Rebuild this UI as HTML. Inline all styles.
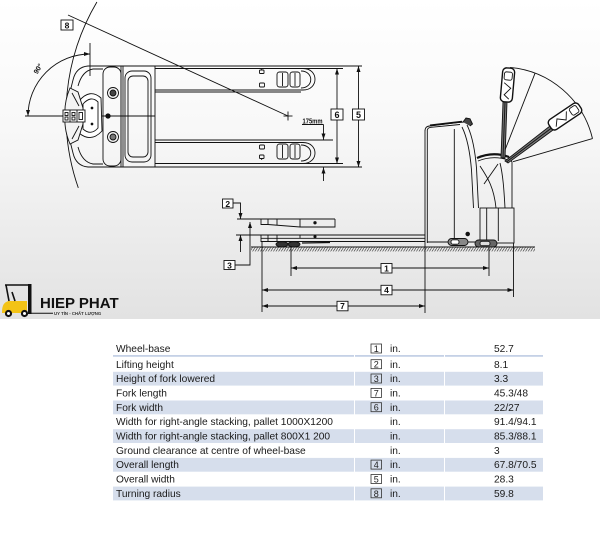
<!DOCTYPE html>
<html><head><meta charset="utf-8"><style>
html,body{margin:0;padding:0;background:#fff;}
svg{display:block}
text{font-family:"Liberation Sans",Arial,sans-serif}
</style></head><body>
<svg width="600" height="536" viewBox="0 0 600 536" xmlns="http://www.w3.org/2000/svg">
<defs>
<linearGradient id="bg" x1="0" y1="0" x2="0" y2="1">
<stop offset="0" stop-color="#ffffff"/><stop offset="0.4" stop-color="#f8f8f8"/><stop offset="1" stop-color="#e2e2e2"/>
</linearGradient>
<marker id="ar" markerUnits="userSpaceOnUse" markerWidth="6" markerHeight="4" refX="6" refY="2" orient="auto-start-reverse"><path d="M0,0 L6,2 L0,4 Z" fill="#111"/></marker>
<pattern id="hatch" width="2.6" height="4" patternUnits="userSpaceOnUse"><path d="M0,4 L2.6,0" stroke="#222" stroke-width="0.6"/></pattern>
</defs>
<rect x="0" y="0" width="600" height="319" fill="url(#bg)"/>

<!-- ========== TOP VIEW ========== -->
<g stroke="#111" stroke-width="0.9" fill="none">
  <line x1="68" y1="15" x2="288" y2="116"/>
  <path d="M96.9,2 A222,222 0 0 0 78.3,187.9"/>
  <path d="M28,116 A62,62 0 0 1 90,54" marker-start="url(#ar)" marker-end="url(#ar)"/>
  <line x1="25" y1="116" x2="155" y2="116"/>
  <line x1="90" y1="43" x2="90" y2="76"/>
  <path d="M362,66 L88,66 Q76,67 73,80 L70,92"/>
  <path d="M362,167 L88,167 Q76,166 73,153 L70,141"/>
  <path d="M103,69 L93,69 Q82,71 78,86"/>
  <path d="M103,164 L93,164 Q82,162 78,147"/>
  <rect x="103" y="67" width="18" height="99" rx="7"/>
  <line x1="121" y1="66" x2="121" y2="167"/>
  <line x1="123" y1="66" x2="123" y2="167"/>
  <rect x="125" y="71" width="26" height="91" rx="7"/>
  <rect x="128" y="76" width="20" height="81" rx="5"/>
  <line x1="155" y1="66" x2="155" y2="167"/>
  <circle cx="113" cy="93" r="5.5"/><circle cx="113" cy="93" r="3" fill="#444"/>
  <circle cx="113" cy="137" r="5.5"/><circle cx="113" cy="137" r="3" fill="#777"/>
  <circle cx="108" cy="116" r="2.2" fill="#111"/>
  <path d="M79,101 Q90,88 101,98 L102,131 Q91,143 79,133 Z" fill="#fff"/>
  <path d="M83,104 Q91,95 98,102 L98,128 Q91,136 83,129 Z"/>
  <circle cx="92" cy="108" r="0.9" fill="#111"/><circle cx="92" cy="124" r="0.9" fill="#111"/>
  <path d="M70,88 L78,92 L83,108 L83,124 L78,140 L70,144 Q64,130 65,116 Q64,102 70,88 Z" fill="#f4f4f4"/>
  <path d="M72,93 L79,106 M72,139 L79,126"/>
  <rect x="63" y="110" width="22" height="12" fill="#fff"/>
  <line x1="70" y1="110" x2="70" y2="122"/><line x1="77" y1="110" x2="77" y2="122"/>
  <rect x="65" y="112.5" width="3" height="3"/><rect x="65" y="117" width="3" height="3"/>
  <rect x="72" y="112.5" width="3" height="3"/><rect x="72" y="117" width="3" height="3"/>
  <rect x="79" y="112.5" width="3.5" height="7"/>
  <path d="M155,68.5 L303,68.5 C319,68.5 319,90 303,90 L155,90"/>
  <path d="M301,71 C314,71 314,88 301,88"/>
  <line x1="155" y1="92" x2="301" y2="92"/>
  <path d="M155,142.5 L303,142.5 C319,142.5 319,163.5 303,163.5 L155,163.5"/>
  <path d="M301,145 C314,145 314,161 301,161"/>
  <line x1="155" y1="140" x2="333" y2="140"/>
  <rect x="259.5" y="70" width="4.5" height="3.5" rx="0.8"/><line x1="261.7" y1="68.5" x2="261.7" y2="70"/>
  <rect x="259.5" y="83" width="5" height="4" rx="1"/>
  <rect x="277" y="72" width="11" height="15" rx="2.5"/><line x1="282.5" y1="73" x2="282.5" y2="86"/>
  <rect x="290" y="72" width="10" height="15" rx="2.5"/><line x1="295" y1="73" x2="295" y2="86"/>
  <rect x="259.5" y="145" width="5" height="4" rx="1"/>
  <rect x="259.5" y="155" width="4.5" height="3.5" rx="0.8"/><line x1="261.7" y1="158.5" x2="261.7" y2="160"/>
  <rect x="277" y="144" width="11" height="15" rx="2.5"/><line x1="282.5" y1="145" x2="282.5" y2="158"/>
  <rect x="290" y="144" width="10" height="15" rx="2.5"/><line x1="295" y1="145" x2="295" y2="158"/>
  <line x1="283.5" y1="116" x2="292.5" y2="116"/><line x1="288" y1="111.5" x2="288" y2="120.5"/>
  <line x1="302" y1="124.5" x2="323.5" y2="124.5"/>
  <line x1="323.5" y1="124.5" x2="323.5" y2="139.5" marker-end="url(#ar)"/>
  <line x1="323.5" y1="181" x2="323.5" y2="167.5" marker-end="url(#ar)"/>
  <line x1="303" y1="68.5" x2="343" y2="68.5"/>
  <line x1="303" y1="163.5" x2="343" y2="163.5"/>
  <line x1="337" y1="68.5" x2="337" y2="163.5" marker-start="url(#ar)" marker-end="url(#ar)"/>
  <line x1="358.5" y1="66" x2="358.5" y2="167" marker-start="url(#ar)" marker-end="url(#ar)"/>
  <rect x="331" y="109" width="12" height="11" fill="#fff"/>
  <rect x="352.5" y="109" width="12" height="11" fill="#fff"/>
  <rect x="61" y="20" width="12" height="10" fill="#fff"/>
</g>
<g font-family="Liberation Sans, sans-serif" font-weight="bold" fill="#111" text-anchor="middle">
  <text x="67" y="28.3" font-size="8.5">8</text>
  <text x="337" y="118" font-size="9">6</text>
  <text x="358.5" y="118" font-size="9">5</text>
  <text x="40" y="70" font-size="7" transform="rotate(-58 40 70)">90°</text>
  <text x="312.5" y="123.3" font-size="7" textLength="20" lengthAdjust="spacingAndGlyphs">175mm</text>
</g>

<!-- ========== SIDE VIEW ========== -->
<g stroke="#111" stroke-width="0.9" fill="none">
  <line x1="251" y1="247" x2="535" y2="247"/>
  <rect x="251" y="247.4" width="284" height="4" fill="url(#hatch)" stroke="none"/>
  <line x1="237" y1="219" x2="335" y2="219"/>
  <path d="M261,219 L261,224.5 L268,224.5 L300,227 L335,227 L335,219"/>
  <path d="M268,219 L268,224.5 M277,219 L277,225.2 M300,219 L300,227"/>
  <circle cx="315" cy="222.8" r="1.2" fill="#111"/>
  <line x1="236" y1="235" x2="425" y2="235"/>
  <line x1="261" y1="238.3" x2="425" y2="238.3"/>
  <line x1="261" y1="241.5" x2="425" y2="241.5"/>
  <path d="M261,235 L261,242 M268,235 L268,241.5 M277,235 L277,241.5 M300,235 L300,238.3"/>
  <circle cx="315" cy="236.7" r="1.1" fill="#111"/>
  <ellipse cx="282" cy="244.3" rx="6" ry="2.6" fill="#333"/>
  <ellipse cx="294" cy="244.3" rx="6" ry="2.6" fill="#333"/>
  <path d="M302,243 L330,242.5" stroke-width="1.3"/>
  <path d="M233,203 L240.5,203 L240.5,219" marker-end="url(#ar)"/>
  <line x1="240.5" y1="252" x2="240.5" y2="235" marker-end="url(#ar)"/>
  <rect x="222.5" y="199" width="10.5" height="9" fill="#fff"/>
  <path d="M235,265 L250,265 L250,222" marker-end="url(#ar)"/>
  <rect x="224" y="260.5" width="11" height="9" fill="#fff"/>
  <line x1="262" y1="242" x2="262" y2="312"/>
  <line x1="291" y1="247" x2="291" y2="276"/>
  <line x1="425" y1="243" x2="425" y2="313"/>
  <line x1="489" y1="247" x2="489" y2="276"/>
  <line x1="513.5" y1="243" x2="513.5" y2="297"/>
  <line x1="291" y1="268" x2="489" y2="268" marker-start="url(#ar)" marker-end="url(#ar)"/>
  <line x1="262" y1="290" x2="513.5" y2="290" marker-start="url(#ar)" marker-end="url(#ar)"/>
  <line x1="262" y1="306" x2="425" y2="306" marker-start="url(#ar)" marker-end="url(#ar)"/>
  <rect x="381" y="263.5" width="11" height="9.5" fill="#fff"/>
  <rect x="381" y="285.3" width="11" height="9.5" fill="#fff"/>
  <rect x="337" y="301.3" width="11" height="9.5" fill="#fff"/>
  <path d="M425,243 L425,131 Q425,126.5 429.5,126 L458,122.5 L465,122"/>
  <path d="M427.3,243 L427.3,130 Q428,127.5 431,127.3 L460,124.5" />
  <path d="M430,125.4 L462,121.6" stroke-width="1.8"/>
  <path d="M463,122 L466,118 L470,118.8 L472.5,124 L470,126" fill="#444"/>
  <line x1="454.3" y1="129" x2="454.3" y2="241.5"/>
  <path d="M467,125 C472,135 475,150 476.5,168 L478.5,208"/>
  <path d="M462,127 C467,137 470,152 471.5,170 L473.5,208"/>
  <line x1="427" y1="242" x2="480" y2="242"/>
  <path d="M477,158 Q493,151 509,157" stroke-width="2.2"/>
  <path d="M478,161 Q493,155 508,160"/>
  <path d="M509,157 L512,162 L512,208"/>
  <path d="M480,166 C488,178 494,188 496,208"/>
  <path d="M500,163 C503,175 504,190 505,208"/>
  <path d="M484,184 L498,164"/>
  <rect x="480" y="208" width="34" height="35"/>
  <line x1="486.7" y1="208" x2="486.7" y2="241"/>
  <line x1="498.3" y1="208" x2="498.3" y2="241"/>
  <rect x="448" y="238.5" width="20" height="7" rx="3.5" fill="#888"/>
  <rect x="451" y="239.8" width="8" height="4.4" rx="2" fill="#fff"/>
  <rect x="475" y="240" width="22" height="7" rx="3.5" fill="#666"/>
  <rect x="480" y="241.3" width="10" height="4.4" rx="2" fill="#ddd"/>
  <circle cx="467.7" cy="234" r="1.8" fill="#111"/>
  <path d="M510.1,67.4 A93,93 0 0 1 592.5,138.6"/>
  <line x1="505" y1="150" x2="535" y2="73.3"/>
  <line x1="513" y1="161.7" x2="592.5" y2="138.6"/>
  <path d="M501,158 L503,102 L507,102 L505,158 Z" fill="#777"/>
  <line x1="503" y1="158" x2="505" y2="102"/>
  <g transform="rotate(5 507.5 85)">
    <rect x="501.5" y="68" width="12" height="34" rx="4" fill="#fff" stroke-width="1.4"/>
    <rect x="503.5" y="72" width="8" height="8" rx="2"/>
    <path d="M504,83 L511,88 L505,95 L510,99"/>
  </g>
  <path d="M505,161 L550,126 L553,130 L508,163 Z" fill="#777"/>
  <line x1="506.5" y1="162" x2="551.5" y2="128"/>
  <g transform="rotate(-34 565 116.5)">
    <rect x="547" y="110.5" width="36" height="12" rx="4" fill="#fff" stroke-width="1.4"/>
    <rect x="572" y="112.5" width="8" height="8" rx="2"/>
    <path d="M569,113 L564,120 L557,114 L552,120"/>
  </g>
</g>
<g font-family="Liberation Serif, serif" font-weight="bold" fill="#111" text-anchor="middle" font-size="8.5">
  <text x="227.8" y="206.8">2</text>
  <text x="229.5" y="268.3">3</text>
  <text x="386.5" y="271.3">1</text>
  <text x="386.5" y="293">4</text>
  <text x="342.5" y="309">7</text>
</g>

<!-- ========== LOGO ========== -->
<g>
  <path d="M2,312 Q2,302 9,301 L27,301 L27,313 L2,313 Z" fill="#f3c316"/>
  <path d="M5,285 L29,285 M6,285 L9,301 M12,292 L15,301" stroke="#111" stroke-width="1.6" fill="none"/>
  <rect x="28" y="284" width="3.5" height="30" fill="#111"/>
  <line x1="31" y1="313.2" x2="53" y2="313.2" stroke="#111" stroke-width="1"/>
  <circle cx="8.5" cy="313.5" r="3.6" fill="#111"/><circle cx="8.5" cy="313.5" r="1.5" fill="#fff"/>
  <circle cx="24.5" cy="313.5" r="3.6" fill="#111"/><circle cx="24.5" cy="313.5" r="1.5" fill="#fff"/>
  <text x="40" y="308" font-size="15" font-weight="bold" fill="#111">HIEP PHAT</text>
  <text x="54" y="315" font-size="4.3" font-weight="bold" fill="#333">UY TÍN - CHẤT LƯỢNG</text>
</g>

<!-- ========== TABLE ========== -->
<g>
  <rect x="113" y="355" width="430" height="1.8" fill="#c5d1e6"/>
  <rect x="113" y="371.8" width="430" height="13.8" fill="#d6deec"/>
  <rect x="113" y="400.5" width="430" height="13.8" fill="#d6deec"/>
  <rect x="113" y="429.2" width="430" height="13.8" fill="#d6deec"/>
  <rect x="113" y="457.9" width="430" height="13.8" fill="#d6deec"/>
  <rect x="113" y="486.6" width="430" height="13.8" fill="#d6deec"/>
  <line x1="354.5" y1="355" x2="354.5" y2="501" stroke="#fff" stroke-width="1"/>
  <line x1="444.5" y1="355" x2="444.5" y2="501" stroke="#fff" stroke-width="1"/>
</g>
<g font-size="10.2" fill="#1a1a1a">
  <text x="116" y="352">Wheel-base</text>
  <text x="116" y="367.8">Lifting height</text>
  <text x="116" y="382.1">Height of fork lowered</text>
  <text x="116" y="396.5">Fork length</text>
  <text x="116" y="410.8">Fork width</text>
  <text x="116" y="425.2">Width for right-angle stacking, pallet 1000X1200</text>
  <text x="116" y="439.5">Width for right-angle stacking, pallet 800X1 200</text>
  <text x="116" y="453.9">Ground clearance at centre of wheel-base</text>
  <text x="116" y="468.2">Overall length</text>
  <text x="116" y="482.6">Overall width</text>
  <text x="116" y="496.9">Turning radius</text>

  <text x="390" y="352">in.</text>
  <text x="390" y="367.8">in.</text>
  <text x="390" y="382.1">in.</text>
  <text x="390" y="396.5">in.</text>
  <text x="390" y="410.8">in.</text>
  <text x="390" y="425.2">in.</text>
  <text x="390" y="439.5">in.</text>
  <text x="390" y="453.9">in.</text>
  <text x="390" y="468.2">in.</text>
  <text x="390" y="482.6">in.</text>
  <text x="390" y="496.9">in.</text>

  <text x="494" y="352">52.7</text>
  <text x="494" y="367.8">8.1</text>
  <text x="494" y="382.1">3.3</text>
  <text x="494" y="396.5">45.3/48</text>
  <text x="494" y="410.8">22/27</text>
  <text x="494" y="425.2">91.4/94.1</text>
  <text x="494" y="439.5">85.3/88.1</text>
  <text x="494" y="453.9">3</text>
  <text x="494" y="468.2">67.8/70.5</text>
  <text x="494" y="482.6">28.3</text>
  <text x="494" y="496.9">59.8</text>
</g>
<g stroke="#333" stroke-width="0.8" fill="none">
  <rect x="371" y="344" width="10.5" height="9"/>
  <rect x="371" y="359.7" width="10.5" height="9"/>
  <rect x="371" y="374" width="10.5" height="9"/>
  <rect x="371" y="388.4" width="10.5" height="9"/>
  <rect x="371" y="402.7" width="10.5" height="9"/>
  <rect x="371" y="460.1" width="10.5" height="9"/>
  <rect x="371" y="474.5" width="10.5" height="9"/>
  <rect x="371" y="488.8" width="10.5" height="9"/>
</g>
<g font-size="9" fill="#222" text-anchor="middle">
  <text x="376.25" y="352">1</text>
  <text x="376.25" y="367.7">2</text>
  <text x="376.25" y="382">3</text>
  <text x="376.25" y="396.4">7</text>
  <text x="376.25" y="410.7">6</text>
  <text x="376.25" y="468.1">4</text>
  <text x="376.25" y="482.5">5</text>
  <text x="376.25" y="496.8">8</text>
</g>
</svg>
</body></html>
